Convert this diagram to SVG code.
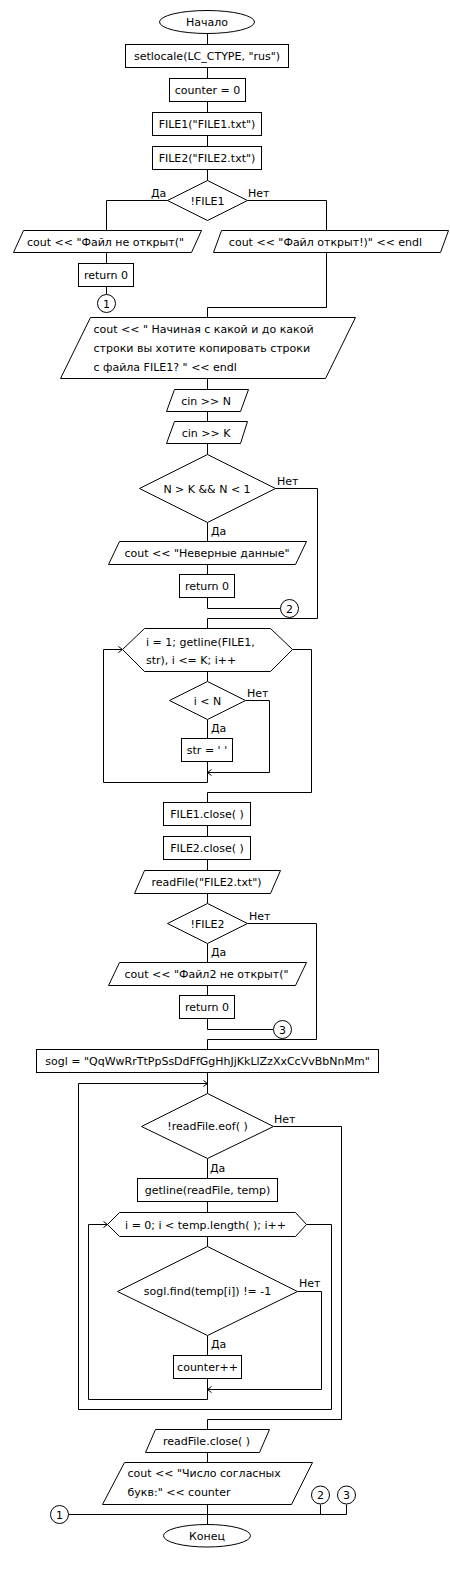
<svg xmlns="http://www.w3.org/2000/svg" width="450" height="1594" viewBox="0 0 450 1594">
<style>
.s{fill:#fff;stroke:#000;stroke-width:1}
.c{fill:none;stroke:#000;stroke-width:1}
text{font-family:"DejaVu Sans","Noto Sans",sans-serif;font-size:11px;fill:#000}
.m{text-anchor:middle}
</style>
<defs>
<marker id="arr" viewBox="0 0 8 8" refX="8" refY="4" markerWidth="8" markerHeight="8" markerUnits="userSpaceOnUse" orient="auto">
<path d="M4,1 L8,4 L4,7" fill="none" stroke="#000" stroke-width="1"/>
</marker>
</defs>
<rect width="450" height="1594" fill="#fff"/>
<g id="connectors" class="c">
<path d="M207.5,33.5 V44.5 M207.5,67.5 V78.5 M207.5,101.5 V112.5 M207.5,135.5 V146.5 M207.5,169.5 V180.5"/>
<path d="M167.5,200.5 H106.5 V230.5 M247.5,200.5 H326.5 V230.5"/>
<path d="M106.5,252.5 V263.5 M106.5,286.5 V294.5"/>
<path d="M326.5,252.5 V307.5 H207.5 V317.5"/>
<path d="M207.5,378.5 V389.5 M207.5,411.5 V421.5 M207.5,443.5 V454.5"/>
<path d="M275.5,488.5 H317.5 V618.5 H207.5"/>
<path d="M207.5,522.5 V541.5 M207.5,564.5 V574.5 M207.5,597.5 V608.5 H280.5"/>
<path d="M207.5,618.5 V628.5 M207.5,671.5 V681.5"/>
<path d="M207.5,719.5 V738.5 M207.5,761.5 V782.5 H103.5 V649.5 H122.5" marker-end="url(#arr)"/>
<path d="M245.5,700.5 H269.5 V772.5 H207.5" marker-end="url(#arr)"/>
<path d="M292.5,649.5 H311.5 V792.5 H207.5 V802.5"/>
<path d="M207.5,825.5 V836.5 M207.5,859.5 V870.5 M207.5,893.5 V903.5"/>
<path d="M247.5,923.5 H316.5 V1039.5 H207.5 V1049.5"/>
<path d="M207.5,943.5 V962.5 M207.5,985.5 V995.5 M207.5,1018.5 V1029.5 H273.5"/>
<path d="M207.5,1072.5 V1093.5"/>
<path d="M207.5,1158.5 V1178.5 M207.5,1201.5 V1212.5 M207.5,1236.5 V1246.5"/>
<path d="M273.5,1126.5 H341.5 V1419.5 H207.5 V1429.5"/>
<path d="M207.5,1335.5 V1355.5 M207.5,1378.5 V1399.5 H88.5 V1224.5 H107.5" marker-end="url(#arr)"/>
<path d="M297.5,1291.5 H321.5 V1389.5 H207.5" marker-end="url(#arr)"/>
<path d="M306.5,1224.5 H331.5 V1409.5 H78.5 V1083.5 H207.5" marker-end="url(#arr)"/>
<path d="M207.5,1452.5 V1462.5 M207.5,1504.5 V1524.5"/>
<path d="M68.5,1514.5 H346.5 V1504.5 M320.5,1504.5 V1514.5"/>
</g>
<g id="labels">
<text x="151" y="197">Да</text>
<text x="248" y="197">Нет</text>
<text x="277" y="485">Нет</text>
<text x="211" y="534.5">Да</text>
<text x="247" y="696.5">Нет</text>
<text x="211" y="732">Да</text>
<text x="249" y="920">Нет</text>
<text x="211" y="955.5">Да</text>
<text x="274" y="1123">Нет</text>
<text x="210" y="1171.5">Да</text>
<text x="299" y="1287">Нет</text>
<text x="211" y="1348">Да</text>
</g>
<g id="start"><ellipse class="s" cx="207" cy="22" rx="47.5" ry="11.5"/><text class="m" x="207" y="26">Начало</text></g>
<g id="setlocale"><rect class="s" x="125.5" y="44.5" width="163" height="23"/><text class="m" x="207" y="60">setlocale(LC_CTYPE, "rus")</text></g>
<g id="counter0"><rect class="s" x="169.5" y="78.5" width="76" height="23"/><text class="m" x="207.5" y="94">counter = 0</text></g>
<g id="file1"><rect class="s" x="152.5" y="112.5" width="109" height="23"/><text class="m" x="207" y="128">FILE1("FILE1.txt")</text></g>
<g id="file2"><rect class="s" x="152.5" y="146.5" width="109" height="23"/><text class="m" x="207" y="162">FILE2("FILE2.txt")</text></g>
<g id="ifFile1"><polygon class="s" points="207.5,180.5 247.5,200.5 207.5,220.5 167.5,200.5"/><text class="m" x="207.5" y="204.5">!FILE1</text></g>
<g id="outNotOpen"><polygon class="s" points="23.5,230.5 201.5,230.5 191.5,252.5 13.5,252.5"/><text class="m" x="105.5" y="245.5">cout &lt;&lt; "Файл не открыт("</text></g>
<g id="outOpen"><polygon class="s" points="221.5,230.5 448.5,230.5 440.5,252.5 213.5,252.5"/><text class="m" x="325.5" y="245.5">cout &lt;&lt; "Файл открыт!)" &lt;&lt; endl</text></g>
<g id="ret1"><rect class="s" x="78.5" y="263.5" width="55" height="23"/><text class="m" x="106" y="279">return 0</text></g>
<g id="conn1a"><circle class="s" cx="106.5" cy="303.5" r="9"/><text class="m" x="106.5" y="307.5">1</text></g>
<g id="outAsk"><polygon class="s" points="90.5,317.5 355.5,317.5 325.5,378.5 60.5,378.5"/><text x="93.5" y="332.5">cout &lt;&lt; " Начиная с какой и до какой</text><text x="93.5" y="351.5">строки вы хотите копировать строки</text><text x="93.5" y="370.5">с файла FILE1? " &lt;&lt; endl</text></g>
<g id="cinN"><polygon class="s" points="174.5,389.5 248.5,389.5 240.5,411.5 166.5,411.5"/><text class="m" x="206" y="404.5">cin &gt;&gt; N</text></g>
<g id="cinK"><polygon class="s" points="174.5,421.5 247.5,421.5 240.5,443.5 166.5,443.5"/><text class="m" x="206" y="436.5">cin &gt;&gt; K</text></g>
<g id="ifNK"><polygon class="s" points="207.5,454.5 275.5,488.5 207.5,522.5 139.5,488.5"/><text class="m" x="207" y="492.5">N &gt; K &amp;&amp; N &lt; 1</text></g>
<g id="outBad"><polygon class="s" points="119.5,541.5 306.5,541.5 295.5,564.5 108.5,564.5"/><text class="m" x="207" y="557">cout &lt;&lt; "Неверные данные"</text></g>
<g id="ret2"><rect class="s" x="179.5" y="574.5" width="55" height="23"/><text class="m" x="207" y="590">return 0</text></g>
<g id="conn2a"><circle class="s" cx="289.5" cy="608.5" r="9"/><text class="m" x="289.5" y="612.5">2</text></g>
<g id="loop1"><polygon class="s" points="122.5,649.5 144.5,628.5 270.5,628.5 292.5,649.5 270.5,671.5 144.5,671.5"/><text x="146" y="645.5">i = 1; getline(FILE1,</text><text x="146" y="664">str), i &lt;= K; i++</text></g>
<g id="ifIN"><polygon class="s" points="207.5,681.5 245.5,700.5 207.5,719.5 169.5,700.5"/><text class="m" x="207.5" y="704.5">i &lt; N</text></g>
<g id="strEmpty"><rect class="s" x="181.5" y="738.5" width="51" height="23"/><text class="m" x="207" y="754">str = ' '</text></g>
<g id="close1"><rect class="s" x="163.5" y="802.5" width="87" height="23"/><text class="m" x="207" y="818">FILE1.close( )</text></g>
<g id="close2"><rect class="s" x="163.5" y="836.5" width="87" height="23"/><text class="m" x="207" y="852">FILE2.close( )</text></g>
<g id="readFileOpen"><polygon class="s" points="144.5,870.5 280.5,870.5 270.5,893.5 134.5,893.5"/><text class="m" x="206.5" y="886">readFile("FILE2.txt")</text></g>
<g id="ifFile2"><polygon class="s" points="207.5,903.5 247.5,923.5 207.5,943.5 167.5,923.5"/><text class="m" x="207.5" y="927.5">!FILE2</text></g>
<g id="outNotOpen2"><polygon class="s" points="119.5,962.5 306.5,962.5 295.5,985.5 108.5,985.5"/><text class="m" x="206.5" y="978">cout &lt;&lt; "Файл2 не открыт("</text></g>
<g id="ret3"><rect class="s" x="179.5" y="995.5" width="55" height="23"/><text class="m" x="207" y="1011">return 0</text></g>
<g id="conn3a"><circle class="s" cx="282.5" cy="1029.5" r="9"/><text class="m" x="282.5" y="1033.5">3</text></g>
<g id="sogl"><rect class="s" x="36.5" y="1049.5" width="342" height="23"/><text class="m" x="207.5" y="1065">sogl = "QqWwRrTtPpSsDdFfGgHhJjKkLlZzXxCcVvBbNnMm"</text></g>
<g id="ifEof"><polygon class="s" points="207.5,1093.5 273.5,1126.5 207.5,1158.5 141.5,1126.5"/><text class="m" x="207.5" y="1130">!readFile.eof( )</text></g>
<g id="getline"><rect class="s" x="137.5" y="1178.5" width="140" height="23"/><text class="m" x="207.5" y="1194">getline(readFile, temp)</text></g>
<g id="loop2"><polygon class="s" points="107.5,1224.5 119.5,1212.5 295.5,1212.5 306.5,1224.5 295.5,1236.5 119.5,1236.5"/><text class="m" x="205.5" y="1228.5">i = 0; i &lt; temp.length( ); i++</text></g>
<g id="ifFind"><polygon class="s" points="207.5,1246.5 297.5,1291.5 207.5,1335.5 117.5,1291.5"/><text class="m" x="207.5" y="1295">sogl.find(temp[i]) != -1</text></g>
<g id="counterInc"><rect class="s" x="173.5" y="1355.5" width="68" height="23"/><text class="m" x="207.5" y="1371">counter++</text></g>
<g id="readFileClose"><polygon class="s" points="155.5,1429.5 269.5,1429.5 259.5,1452.5 145.5,1452.5"/><text class="m" x="206.5" y="1445">readFile.close( )</text></g>
<g id="outCount"><polygon class="s" points="124.5,1462.5 312.5,1462.5 291.5,1504.5 102.5,1504.5"/><text x="127.5" y="1477">cout &lt;&lt; "Число согласных</text><text x="127.5" y="1496">букв:" &lt;&lt; counter</text></g>
<g id="conn1b"><circle class="s" cx="59.5" cy="1514.5" r="9"/><text class="m" x="59.5" y="1518.5">1</text></g>
<g id="conn2b"><circle class="s" cx="320.5" cy="1495" r="9"/><text class="m" x="320.5" y="1499">2</text></g>
<g id="conn3b"><circle class="s" cx="346.5" cy="1495" r="9"/><text class="m" x="346.5" y="1499">3</text></g>
<g id="end"><ellipse class="s" cx="207" cy="1535.75" rx="43.5" ry="11.25"/><text class="m" x="207" y="1539.5">Конец</text></g>
</svg>
